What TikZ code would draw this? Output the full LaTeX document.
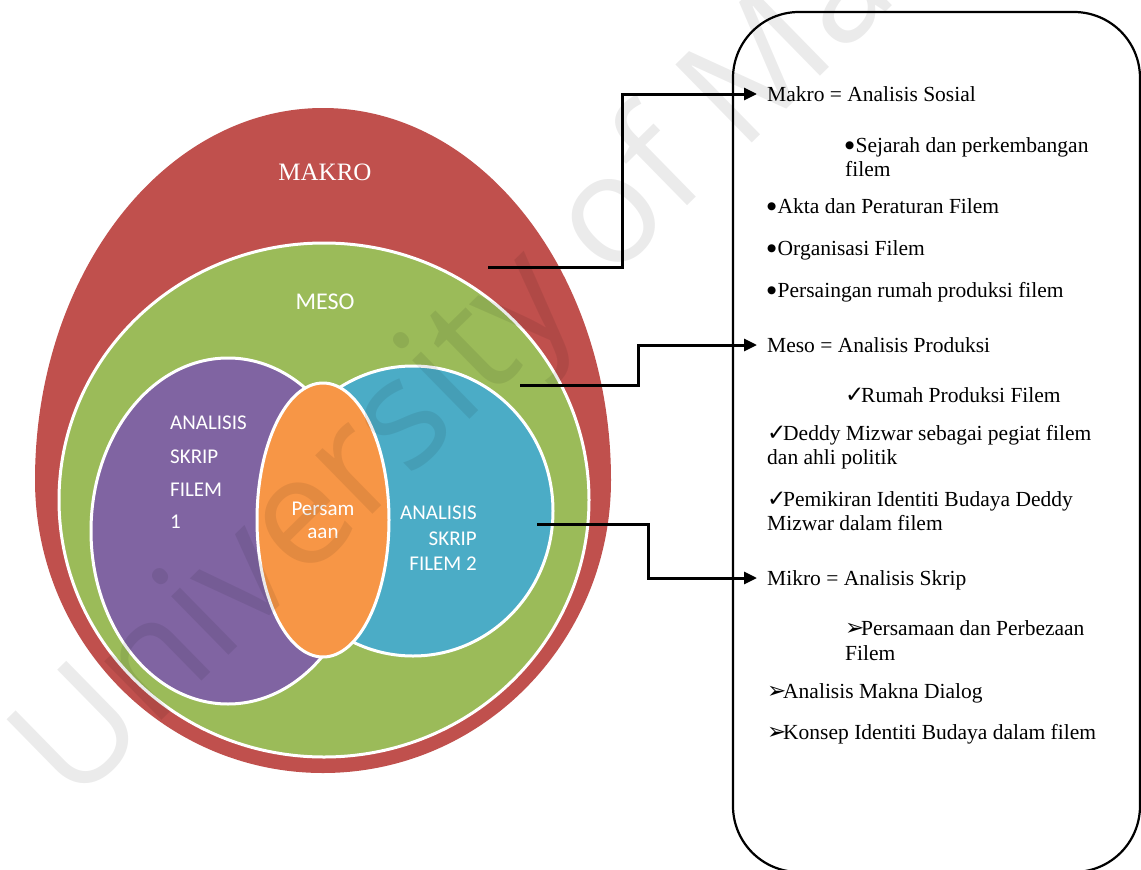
\documentclass[tikz,border=0pt]{standalone}
\usepackage{fontspec}
\setmainfont{Liberation Serif}
\newfontfamily\calib{Carlito}
\newfontfamily\symf{DejaVu Sans}
\newfontfamily\wmf{Open Sans}
\usetikzlibrary{arrows.meta,shapes.geometric}
\definecolor{cmakro}{HTML}{C0504D}
\definecolor{cmeso}{HTML}{9BBB59}
\definecolor{cfilma}{HTML}{8064A2}
\definecolor{cfilmb}{HTML}{4BACC6}
\definecolor{csama}{HTML}{F79646}
\newcommand{\bul}{\makebox[10.5pt][l]{\raisebox{4pt}{\symf\fontsize{10.5}{10.5}\selectfont ●}}}
\newcommand{\chk}{\makebox[16pt][l]{\symf\fontsize{23}{23}\selectfont ✓}}
\newcommand{\arr}{\makebox[16pt][l]{\symf\fontsize{23}{23}\selectfont ➢}}
\begin{document}
\begin{tikzpicture}[x=1pt,y=-1pt,
  ring/.style={ellipse, draw=white, line width=3pt, inner sep=0pt},
  boxtext/.style={anchor=base west, font=\fontsize{21.5}{24}\selectfont, inner sep=0pt},
  lbl/.style={text=white, inner sep=0pt, font=\calib\fontsize{21}{24}\selectfont},
  conn/.style={line width=3pt, -{Triangle[length=13pt,width=12pt]}},
]
\useasboundingbox (0,0) rectangle (1141,870);
% outer egg (MAKRO)
\fill[cmakro] (35,480) arc[start angle=180,end angle=0,x radius=288pt,y radius=372pt]
  arc[start angle=0,end angle=-180,x radius=288pt,y radius=293pt] -- cycle;
\node[text=white, inner sep=0pt, font=\fontsize{25}{25}\selectfont] (makrolbl) at (325,172) {MAKRO};
% MESO
\node[ring, fill=cmeso, minimum width=530pt, minimum height=514pt] (meso) at (324,500) {};
\node[lbl, font=\calib\fontsize{24}{24}\selectfont] (mesolbl) at (325,302) {MESO};
% film circles
\node[ring, fill=cfilma, minimum width=274pt, minimum height=346pt] (filma) at (228,531) {};
\node[ring, fill=cfilmb, minimum width=280pt, minimum height=290pt] (filmb) at (413,511) {};
\node[ring, fill=csama, minimum width=132pt, minimum height=274pt] (sama) at (323,520) {};
% labels inside
\node[lbl, anchor=base west] (fa1) at (170,429) {ANALISIS};
\node[lbl, anchor=base west] (fa2) at (170,463) {SKRIP};
\node[lbl, anchor=base west] (fa3) at (170,496) {FILEM};
\node[lbl, anchor=base west] (fa4) at (170,528) {1};
\node[lbl, anchor=base east] (fb1) at (477,519) {ANALISIS};
\node[lbl, anchor=base east] (fb2) at (477,545) {SKRIP};
\node[lbl, anchor=base east] (fb3) at (477,570) {FILEM 2};
\node[lbl, anchor=base] (sm1) at (323,515) {Persam};
\node[lbl, anchor=base] (sm2) at (323,538) {aan};
% right box
\node[draw, line width=2.2pt, rounded corners=66pt, minimum width=407pt, minimum height=860pt, inner sep=0pt] (box) at (936.5,442) {};
\node[boxtext] (tmak) at (767,101) {Makro = Analisis Sosial};
\node[boxtext] (tmak1a) at (845,152) {\bul Sejarah dan perkembangan};
\node[boxtext] (tmak1b) at (845,176) {filem};
\node[boxtext] (tmak2) at (767,213) {\bul Akta dan Peraturan Filem};
\node[boxtext] (tmak3) at (767,255) {\bul Organisasi Filem};
\node[boxtext] (tmak4) at (767,297) {\bul Persaingan rumah produksi filem};
\node[boxtext] (tmes) at (767,352) {Meso = Analisis Produksi};
\node[boxtext] (tmes1) at (845,402) {\chk Rumah Produksi Filem};
\node[boxtext] (tmes2a) at (767,440) {\chk Deddy Mizwar sebagai pegiat filem};
\node[boxtext] (tmes2b) at (767,464) {dan ahli politik};
\node[boxtext] (tmes3a) at (767,506) {\chk Pemikiran Identiti Budaya Deddy};
\node[boxtext] (tmes3b) at (767,530) {Mizwar dalam filem};
\node[boxtext] (tmik) at (767,585) {Mikro = Analisis Skrip};
\node[boxtext] (tmik1a) at (845,635) {\arr Persamaan dan Perbezaan};
\node[boxtext] (tmik1b) at (845,660) {Filem};
\node[boxtext] (tmik2) at (767,698) {\arr Analisis Makna Dialog};
\node[boxtext] (tmik3) at (767,739) {\arr Konsep Identiti Budaya dalam filem};
% connectors
\coordinate (pmak) at (488,267);
\coordinate (pmes) at (520,385);
\coordinate (pmik) at (537,524);
\coordinate (emak) at ([shift={(-10pt,7pt)}]tmak.base west);
\coordinate (emes) at ([shift={(-10pt,7pt)}]tmes.base west);
\coordinate (emik) at ([shift={(-10pt,7pt)}]tmik.base west);
\draw[conn] (pmak) -- (622,267) |- (emak);
\draw[conn] (pmes) -- (638,385) |- (emes);
\draw[conn] (pmik) -- (648,524) |- (emik);
% watermark
\node[rotate=44.4, anchor=base west, text=black, text opacity=0.08, inner sep=0pt,
  font=\wmf\fontsize{153}{153}\selectfont] (wm) at (73,808) {University of Malaya};
\end{tikzpicture}
\end{document}
